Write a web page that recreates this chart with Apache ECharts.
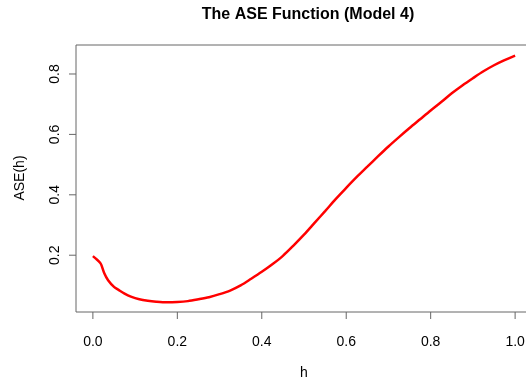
<!DOCTYPE html>
<html>
<head>
<meta charset="utf-8">
<script src="https://cdn.jsdelivr.net/npm/echarts@6/dist/echarts.min.js"></script>
<style>
  html, body { margin: 0; padding: 0; background: #ffffff; }
  #chart { width: 526px; height: 381px; }
</style>
</head>
<body>
<div id="chart"></div>
<script>
// Bandwidth values h and the ASE estimate at each one
const hValues = [0.00, 0.01, 0.017, 0.02, 0.027, 0.036, 0.05, 0.06, 0.075, 0.09,
  0.11, 0.13, 0.15, 0.175, 0.20, 0.225, 0.25, 0.275, 0.30, 0.325,
  0.35, 0.375, 0.40, 0.425, 0.45, 0.475, 0.50, 0.525, 0.55, 0.575,
  0.60, 0.625, 0.65, 0.675, 0.70, 0.725, 0.75, 0.775, 0.80, 0.825,
  0.85, 0.875, 0.90, 0.925, 0.95, 0.975, 1.00];
const aseValues = [0.197, 0.185, 0.175, 0.168, 0.140, 0.117, 0.095, 0.086, 0.073, 0.063,
  0.054, 0.049, 0.046, 0.044, 0.045, 0.048, 0.054, 0.061, 0.071, 0.083,
  0.100, 0.122, 0.145, 0.170, 0.198, 0.232, 0.268, 0.307, 0.346, 0.386,
  0.423, 0.459, 0.493, 0.527, 0.560, 0.591, 0.621, 0.650, 0.679, 0.707,
  0.736, 0.762, 0.786, 0.809, 0.829, 0.846, 0.861];

// Tick positions on each axis
const xTicks = [0, 0.2, 0.4, 0.6, 0.8, 1.0];
const yTicks = [0.2, 0.4, 0.6, 0.8];

// Axis ranges, padded 4% beyond the data as in base R plots
const xMin = -0.04, xMax = 1.04;
const yMin = 0.012, yMax = 0.896;

const chart = echarts.init(document.getElementById('chart'));

const font = 'Liberation Sans, Arial, Helvetica, sans-serif';
const axisGray = '#666';
const tickLen = 7;

// Short outward tick marks, placed through the axis scales
function tickSeries(values, horizontal) {
  return {
    type: 'custom',
    coordinateSystem: 'cartesian2d',
    silent: true,
    clip: false,
    z: 5,
    data: values.map(v => horizontal ? [v, yMin] : [xMin, v]),
    renderItem: (params, api) => {
      const p = api.coord([api.value(0), api.value(1)]);
      const shape = horizontal
        ? { x1: p[0], y1: p[1], x2: p[0], y2: p[1] + tickLen }
        : { x1: p[0] - tickLen, y1: p[1], x2: p[0], y2: p[1] };
      return { type: 'line', shape, style: { stroke: axisGray, lineWidth: 1 } };
    }
  };
}

chart.setOption({
  animation: false,
  backgroundColor: '#ffffff',
  title: {
    text: 'The ASE Function (Model 4)',
    left: 303,
    top: 2,
    textAlign: 'center',
    textStyle: { fontFamily: font, fontWeight: 'bold', fontSize: 16, color: '#000' }
  },
  // axis titles
  graphic: [
    {
      type: 'text', x: 304, y: 373,
      style: { text: 'h', font: '14px ' + font, fill: '#000', align: 'center', verticalAlign: 'middle' }
    },
    {
      type: 'text', x: 20, y: 178, rotation: Math.PI / 2,
      style: { text: 'ASE(h)', font: '14px ' + font, fill: '#000', align: 'center', verticalAlign: 'middle' }
    }
  ],
  grid: {
    left: 76, top: 45, width: 456, height: 267,
    outerBoundsMode: 'none',
    show: true, borderColor: axisGray
  },
  xAxis: {
    type: 'value',
    min: xMin, max: xMax,
    axisLine: { show: false, onZero: false },
    splitLine: { show: false },
    axisTick: { show: false },
    axisLabel: {
      customValues: xTicks, margin: 23,
      formatter: v => v.toFixed(1),
      fontFamily: font, fontSize: 14, color: '#000'
    }
  },
  yAxis: {
    type: 'value',
    min: yMin, max: yMax,
    axisLine: { show: false, onZero: false },
    splitLine: { show: false },
    axisTick: { show: false },
    axisLabel: {
      customValues: yTicks, margin: 14, rotate: 90,
      formatter: v => v.toFixed(1),
      fontFamily: font, fontSize: 14, color: '#000'
    }
  },
  series: [
    {
      type: 'line',
      data: hValues.map((h, i) => [h, aseValues[i]]),
      showSymbol: false,
      smooth: 0.3,
      lineStyle: { color: '#ff0000', width: 2.5 }
    },
    tickSeries(xTicks, true),
    tickSeries(yTicks, false)
  ]
});
</script>
</body>
</html>
